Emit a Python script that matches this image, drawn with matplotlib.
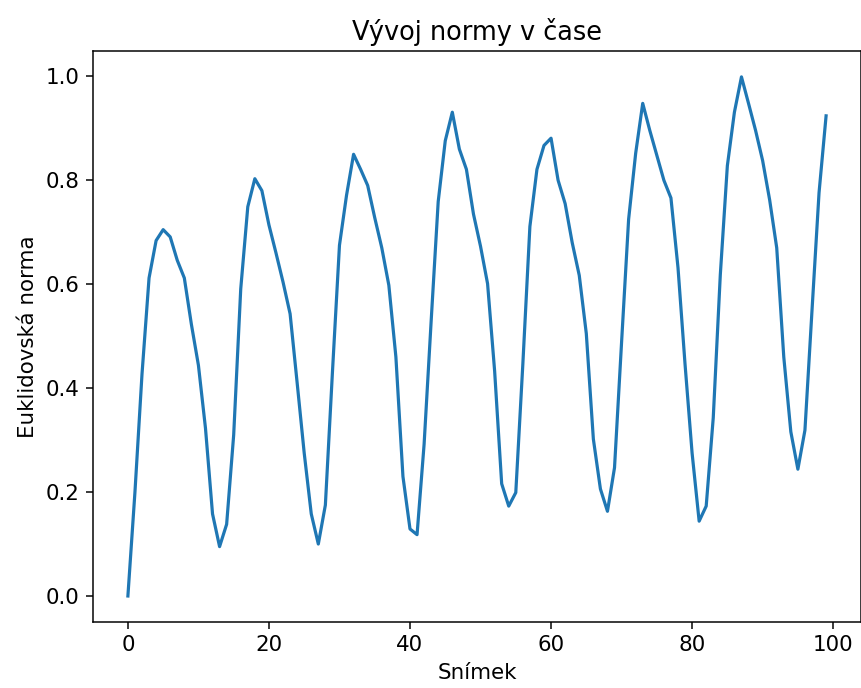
import matplotlib
matplotlib.use('Agg')
from matplotlib import pyplot as plt

# Euclidean norm per frame
frames = list(range(100))
norm = [0.0, 0.20, 0.427, 0.612, 0.684, 0.705, 0.691, 0.646, 0.612, 0.523,
        0.444, 0.323, 0.158, 0.095, 0.138, 0.310, 0.591, 0.749, 0.803, 0.780,
        0.714, 0.660, 0.604, 0.543, 0.410, 0.275, 0.158, 0.100, 0.175, 0.430,
        0.675, 0.771, 0.850, 0.821, 0.790, 0.728, 0.670, 0.598, 0.460, 0.230,
        0.129, 0.118, 0.292, 0.529, 0.759, 0.876, 0.931, 0.860, 0.821, 0.735,
        0.673, 0.601, 0.433, 0.216, 0.173, 0.199, 0.446, 0.711, 0.821, 0.867,
        0.881, 0.800, 0.755, 0.680, 0.617, 0.505, 0.302, 0.206, 0.163, 0.247,
        0.488, 0.725, 0.852, 0.948, 0.896, 0.848, 0.800, 0.766, 0.632, 0.446,
        0.275, 0.144, 0.173, 0.343, 0.618, 0.828, 0.931, 0.999, 0.948, 0.896,
        0.838, 0.762, 0.670, 0.460, 0.316, 0.244, 0.319, 0.549, 0.776, 0.924]

plt.rcParams['font.size'] = 11.4
plt.rcParams['axes.titlesize'] = 13.7
plt.rcParams['lines.linewidth'] = 1.7

dpi = 135
fig = plt.figure(figsize=(861 / dpi, 688 / dpi), dpi=dpi)
ax = fig.add_axes([0.108, 0.096, 0.892, 0.830])
ax.plot(frames, norm)
ax.set_title('Vývoj normy v čase')
ax.set_xlabel('Snímek')
ax.set_ylabel('Euklidovská norma')
fig.savefig('out.png', dpi=dpi)
